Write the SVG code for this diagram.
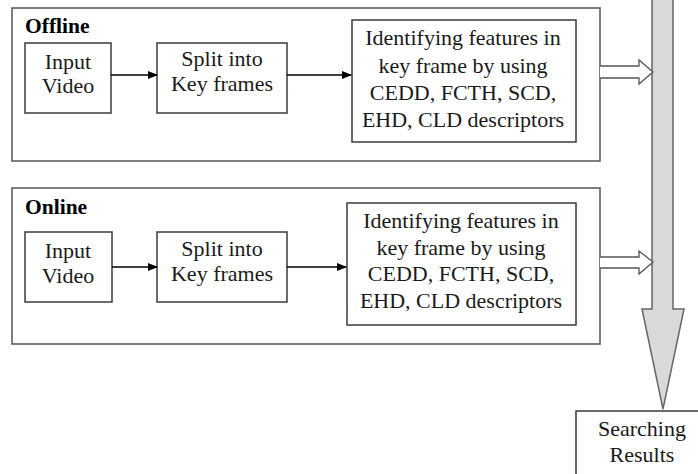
<svg xmlns="http://www.w3.org/2000/svg" width="698" height="474" viewBox="0 0 698 474">
<style>
.frame{fill:#fff;stroke:#555;stroke-width:1.5}
.box{fill:#fff;stroke:#3a3a3a;stroke-width:1.5}
.t{font-family:'Liberation Serif','Times New Roman',Tinos,'DejaVu Serif',serif;font-size:22px;fill:#1a1a1a;text-anchor:middle}
.h{font-family:'Liberation Serif','Times New Roman',Tinos,'DejaVu Serif',serif;font-size:21.5px;font-weight:bold;fill:#000}
.ln{stroke:#000;stroke-width:1.5;fill:none}
.hollow{fill:#fff;stroke:#555;stroke-width:1.3}
.big{fill:#d9d9d9;stroke:#666;stroke-width:1.5}
</style>
<defs>
<marker id="ah" markerWidth="10" markerHeight="8" refX="9" refY="4" orient="auto" markerUnits="userSpaceOnUse">
<path d="M0,0 L10,4 L0,8 Z" fill="#000"/>
</marker>
</defs>
<rect width="698" height="474" fill="#fff"/>
<g id="offline">
<rect class="frame" x="12" y="8" width="588" height="153"/>
<text class="h" x="25" y="33">Offline</text>
</g>
<g id="online">
<rect class="frame" x="12" y="188" width="588" height="156"/>
<text class="h" x="25" y="214">Online</text>
</g>
<g id="off-input">
<rect class="box" x="25" y="43" width="86" height="70"/>
<text class="t" x="68" y="69">Input</text>
<text class="t" x="68" y="93">Video</text>
</g>
<g id="off-split">
<rect class="box" x="157" y="43" width="130" height="70"/>
<text class="t" x="222" y="66">Split into</text>
<text class="t" x="222" y="91">Key frames</text>
</g>
<g id="off-ident">
<rect class="box" x="352" y="20" width="224" height="122"/>
<text class="t" x="463" y="45">Identifying features in</text>
<text class="t" x="463" y="73">key frame by using</text>
<text class="t" x="463" y="100">CEDD, FCTH, SCD,</text>
<text class="t" x="463" y="127">EHD, CLD descriptors</text>
</g>
<g id="on-input">
<rect class="box" x="25" y="232" width="87" height="70"/>
<text class="t" x="68" y="258">Input</text>
<text class="t" x="68" y="283">Video</text>
</g>
<g id="on-split">
<rect class="box" x="157" y="232" width="130" height="70"/>
<text class="t" x="222" y="256">Split into</text>
<text class="t" x="222" y="281">Key frames</text>
</g>
<g id="on-ident">
<rect class="box" x="347" y="203" width="229" height="122"/>
<text class="t" x="461" y="228">Identifying features in</text>
<text class="t" x="461" y="255">key frame by using</text>
<text class="t" x="461" y="281">CEDD, FCTH, SCD,</text>
<text class="t" x="461" y="308">EHD, CLD descriptors</text>
</g>
<g id="results">
<rect class="box" x="576" y="411" width="130" height="70"/>
<text class="t" x="642" y="436">Searching</text>
<text class="t" x="642" y="462">Results</text>
</g>
<g id="connectors">
<line class="ln" x1="111" y1="75" x2="157" y2="75" marker-end="url(#ah)"/>
<line class="ln" x1="287" y1="75" x2="351" y2="75" marker-end="url(#ah)"/>
<line class="ln" x1="112" y1="267" x2="157" y2="267" marker-end="url(#ah)"/>
<line class="ln" x1="287" y1="267" x2="346" y2="267" marker-end="url(#ah)"/>
<path class="big" d="M652,-2 L652,309 L642,309 L663,409 L684,309 L673,309 L673,-2"/>
<path class="hollow" d="M600,66 L639,66 L639,60 L653,72 L639,84 L639,78 L600,78"/>
<path class="hollow" d="M600,257 L639,257 L639,251 L653,262 L639,274 L639,268 L600,268"/>
</g>
</svg>
